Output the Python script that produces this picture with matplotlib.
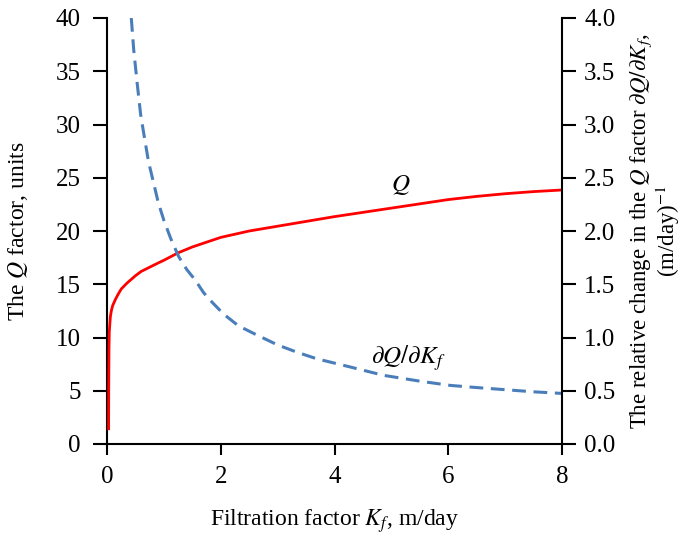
import matplotlib
matplotlib.use("Agg")
import matplotlib.pyplot as plt

plt.rcParams['font.family'] = ['Liberation Serif', 'DejaVu Serif']
plt.rcParams['mathtext.fontset'] = 'stix'
plt.rcParams['font.size'] = 17

# Q factor vs filtration factor
kf_q = [0.028, 0.03, 0.035, 0.04, 0.05, 0.06, 0.08, 0.1, 0.15, 0.2, 0.25, 0.35,
        0.5, 0.6, 0.75, 0.9, 1.0, 1.25, 1.5, 1.75, 2.0, 2.5, 3.0, 3.5, 4.0,
        4.5, 5.0, 5.5, 6.0, 6.5, 7.0, 7.5, 8.0]
q = [1.3, 5.0, 9.0, 10.5, 11.3, 12.0, 12.6, 13.0, 13.6, 14.1, 14.55, 15.1,
     15.8, 16.2, 16.6, 17.0, 17.25, 17.95, 18.5, 18.95, 19.4, 20.0, 20.45, 20.9, 21.35,
     21.75, 22.15, 22.55, 22.95, 23.25, 23.5, 23.7, 23.85]

# relative change dQ/dKf
kf_dq = [0.427, 0.47, 0.53, 0.59, 0.645, 0.73, 0.82, 0.9, 1.0, 1.12, 1.26, 1.4,
         1.55, 1.7, 1.85, 2.05, 2.31, 2.61, 3.0, 3.35, 3.69, 4.3, 4.86, 5.5,
         6.04, 6.5, 7.0, 7.5, 8.0]
dq = [4.0, 3.7, 3.39, 3.1, 2.92, 2.65, 2.45, 2.27, 2.10, 1.93, 1.76, 1.64,
      1.54, 1.42, 1.33, 1.22, 1.11, 1.03, 0.93, 0.86, 0.80, 0.72, 0.645, 0.59,
      0.55, 0.53, 0.51, 0.49, 0.475]

fig = plt.figure(figsize=(6.84, 5.34), dpi=100)
ax = fig.add_axes([107 / 684, 90 / 534, 455 / 684, 426 / 534])
ax2 = ax.twinx()

ax.plot(kf_q, q, color='#ff0000', lw=2.0, solid_capstyle='butt', zorder=3)
ax2.plot(kf_dq, dq, color='#4a7ebb', lw=2.2, linestyle=(0, (4.5, 2.5)))

ax.set_xlim(0, 8)
ax.set_ylim(0, 40)
ax2.set_ylim(0, 4)
ax.set_xticks([0, 2, 4, 6, 8])
ax.set_yticks(range(0, 41, 5))
ax2.set_yticks([i * 0.5 for i in range(9)])
ax2.set_yticklabels([f'{i * 0.5:.1f}' for i in range(9)])

for a in (ax, ax2):
    a.spines['top'].set_visible(False)
    for s in a.spines.values():
        s.set_linewidth(1.5)
ax.spines['right'].set_visible(False)
ax2.spines['left'].set_visible(False)
ax2.spines['bottom'].set_visible(False)

ax.tick_params(axis='y', direction='out', length=10, width=1.5, pad=9, labelsize=18)
ax.tick_params(axis='x', direction='out', length=8, width=1.5, pad=8, labelsize=18)
ax2.tick_params(axis='y', direction='out', length=10, width=1.5, pad=6, labelsize=18)

ax.text(5.16, 24.3, '$Q$', ha='center', va='center', fontsize=18)
ax2.text(5.3, 0.81, r'$\partial Q/\partial K_f$', ha='center', va='center', fontsize=18)

ax.set_xlabel('Filtration factor $K_f$, m/day')
ax.xaxis.label.set_verticalalignment('center')
ax.xaxis.set_label_coords(0.5, -0.181)
ax.set_ylabel('The $Q$ factor, units')
ax.yaxis.label.set_verticalalignment('center')
ax.yaxis.set_label_coords(-0.196, 0.5)
ax2.set_ylabel('The relative change in the $Q$ factor $\\partial Q/\\partial K_f$,\n(m/day)$^{-1}$',
               linespacing=0.95, fontsize=16.5)
ax2.yaxis.label.set_verticalalignment('center')
ax2.yaxis.set_label_coords(1.205, 0.5)

fig.savefig('out.png', dpi=100)
